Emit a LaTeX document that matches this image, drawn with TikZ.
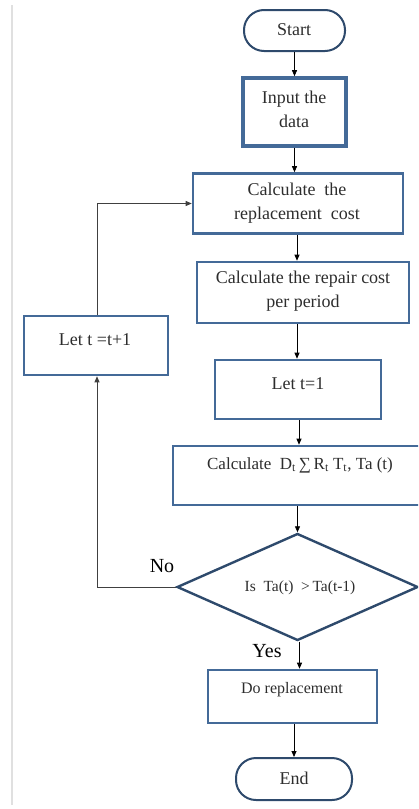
\documentclass[tikz,border=0pt]{standalone}
\usepackage{fontspec}
\setmainfont{Liberation Serif}
\usetikzlibrary{shapes.geometric,arrows.meta}
\definecolor{boxblue}{RGB}{68,106,152}
\definecolor{darkblue}{RGB}{46,74,108}
\definecolor{txt}{RGB}{45,45,45}
\begin{document}
\begin{tikzpicture}[x=1pt,y=-1pt,
 stepbox/.style={draw=boxblue, line width=2.6pt, inner sep=0pt, rectangle},
 term/.style={draw=darkblue, line width=2pt, rounded corners=20pt, inner sep=0pt, rectangle},
 lbl/.style={text=txt, font=\fontsize{18}{24}\selectfont, align=center, inner sep=0pt},
 yn/.style={text=black, font=\fontsize{20}{24}\selectfont, inner sep=0pt},
 flow/.style={draw=black, line width=0.8pt, -{Triangle[length=6pt,width=5pt]}},
 loopline/.style={draw=black!75, line width=0.8pt},
]
\useasboundingbox (0,0) rectangle (418,809);
\begin{scope}
\clip (0,0) rectangle (418,809);
% faint page rule
\draw[black!12, line width=1.6pt] (12,5) -- (12,805);

% shapes
\node[term, minimum width=101pt, minimum height=41pt] (start) at (294.5,30.5) {};
\node[stepbox, line width=3.6pt, minimum width=103pt, minimum height=68pt] (input) at (294.5,112) {};
\node[stepbox, minimum width=210pt, minimum height=60pt] (repl) at (298,203.5) {};
\node[stepbox, minimum width=212pt, minimum height=61pt] (repair) at (303,292.5) {};
\node[stepbox, minimum width=166pt, minimum height=59pt] (letone) at (298,389.5) {};
\node[stepbox, minimum width=260pt, minimum height=59pt] (calcd) at (303,475.5) {};
\node[draw=darkblue, line width=2.4pt, diamond, inner sep=0pt, minimum width=241pt, minimum height=107pt] (dia) at (297.5,587) {};
\node[stepbox, minimum width=144pt, minimum height=59pt] (inc) at (96,345.5) {};
\node[stepbox, minimum width=169pt, minimum height=53pt] (dorep) at (292.5,696.5) {};
\node[term, minimum width=116pt, minimum height=42pt] (finish) at (294,779) {};

% texts
\node[lbl] (tstart) at (294,30) {Start};
\node[lbl] (tinput) at (294,109) {Input the\\data};
\node[lbl] (trepl) at (297,203.5) {Calculate\ \ the\\replacement\ \ cost};
\node[lbl] (trepair) at (303,291) {Calculate the repair cost\\per period};
\node[lbl] (tletone) at (298,384) {Let t=1};
\node[lbl, font=\fontsize{17}{24}\selectfont] (tcalcd) at (300,465) {Calculate\ \ D\textsubscript{t}\,∑\,R\textsubscript{t} T\textsubscript{t}, Ta (t)};
\node[lbl, font=\fontsize{15.5}{20}\selectfont] (tdia) at (300,588) {Is\ \ Ta(t)\ \ >\,Ta(t-1)};
\node[lbl] (tinc) at (95,340) {Let t =t+1};
\node[lbl, font=\fontsize{16}{20}\selectfont] (tdorep) at (292,690) {Do replacement};
\node[lbl] (tend) at (294,778) {End};
\node[yn] (no) at (162,566) {No};
\node[yn] (yes) at (267,651) {Yes};

% connectors
\draw[flow] (start.south) -- (start.south |- input.north);
\draw[flow] (input.south) -- (input.south |- repl.north);
\draw[flow] ([xshift=-1pt]repl.south) -- ([xshift=-1pt]repl.south |- repair.north);
\draw[flow] ([xshift=-6pt]repair.south) -- ([xshift=-6pt]repair.south |- letone.north);
\draw[flow] ([xshift=1pt]letone.south) -- ([xshift=1pt]letone.south |- calcd.north);
\draw[flow] (dia.north |- calcd.south) -- (dia.north);
\draw[flow] ([xshift=2pt]dia.south) -- ([xshift=2pt]dia.south |- dorep.north);
\draw[flow] ([xshift=1.5pt]dorep.south) -- ([xshift=1.5pt]dorep.south |- finish.north);
\draw[loopline, -{Triangle[length=6pt,width=5pt]}] (dia.west) -| ([xshift=1pt]inc.south);
\draw[loopline, -{Triangle[length=6pt,width=5pt]}] ([xshift=1pt]inc.north) |- (repl.west);
\end{scope}
\end{tikzpicture}
\end{document}
